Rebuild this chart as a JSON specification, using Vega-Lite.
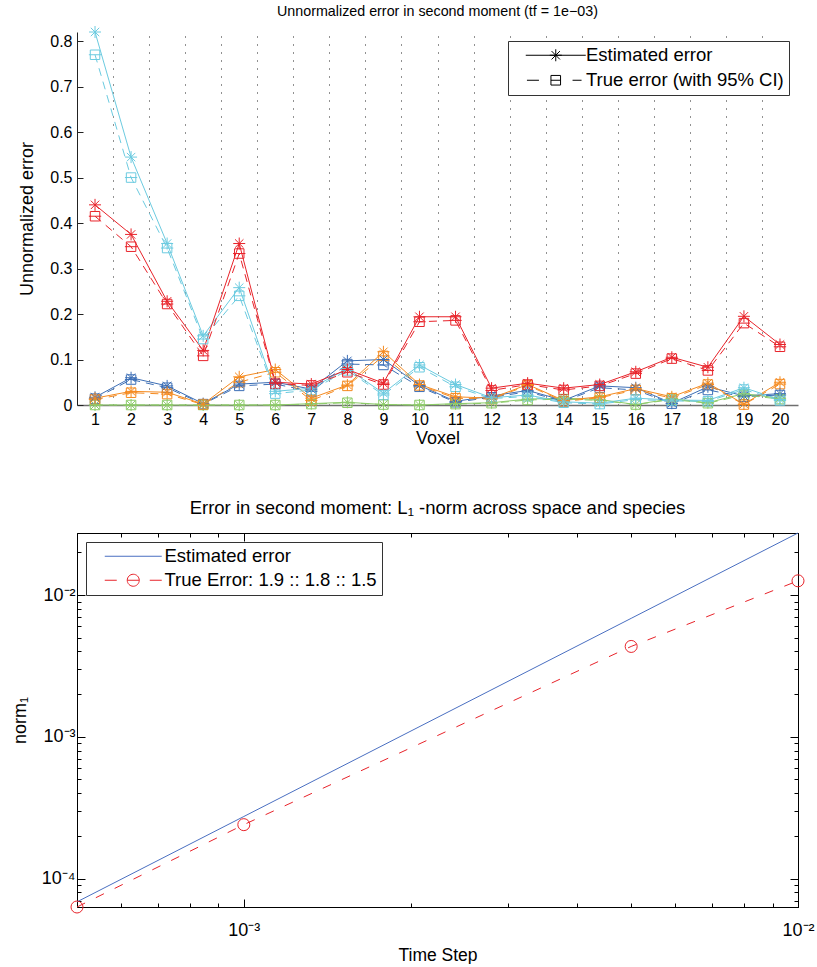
{
  "$schema": "https://vega.github.io/schema/vega-lite/v6.json",
  "background": "white",
  "padding": {"left": 11, "top": 4, "right": 0, "bottom": 0},
  "spacing": 51,
  "config": {
    "font": "Liberation Sans",
    "view": {"stroke": null},
    "axis": {"labelFontSize": 16, "titleFontSize": 18, "titleFontWeight": "normal", "labelColor": "black", "titleColor": "black", "grid": false, "labelFlush": false, "domainColor": "black", "tickColor": "black"},
    "title": {"fontSize": 17, "fontWeight": "normal", "color": "black"},
    "legend": {"labelFontSize": 18.5, "labelColor": "black", "labelLimit": 500, "strokeColor": "#333", "fillColor": "white", "symbolOpacity": 1, "symbolStrokeWidth": 1, "symbolSize": 144}
  },
  "resolve": {
    "scale": {"color": "independent", "shape": "independent", "strokeDash": "independent"},
    "legend": {"color": "independent", "shape": "independent"}
  },
  "datasets": {
    "voxels": [
      {"voxel":1,"species":"s1","est":0.017,"tru":0.014},{"voxel":2,"species":"s1","est":0.06,"tru":0.056},{"voxel":3,"species":"s1","est":0.042,"tru":0.038},{"voxel":4,"species":"s1","est":0.003,"tru":0.002},{"voxel":5,"species":"s1","est":0.046,"tru":0.042},{"voxel":6,"species":"s1","est":0.05,"tru":0.046},{"voxel":7,"species":"s1","est":0.035,"tru":0.03},{"voxel":8,"species":"s1","est":0.097,"tru":0.09},{"voxel":9,"species":"s1","est":0.1,"tru":0.088},{"voxel":10,"species":"s1","est":0.043,"tru":0.04},
      {"voxel":11,"species":"s1","est":0.008,"tru":0.006},{"voxel":12,"species":"s1","est":0.02,"tru":0.017},{"voxel":13,"species":"s1","est":0.032,"tru":0.029},{"voxel":14,"species":"s1","est":0.01,"tru":0.008},{"voxel":15,"species":"s1","est":0.042,"tru":0.038},{"voxel":16,"species":"s1","est":0.038,"tru":0.033},{"voxel":17,"species":"s1","est":0.004,"tru":0.003},{"voxel":18,"species":"s1","est":0.04,"tru":0.033},{"voxel":19,"species":"s1","est":0.02,"tru":0.018},{"voxel":20,"species":"s1","est":0.025,"tru":0.022},
      {"voxel":1,"species":"s2","est":0,"tru":0},{"voxel":2,"species":"s2","est":0,"tru":0},{"voxel":3,"species":"s2","est":0,"tru":0},{"voxel":4,"species":"s2","est":0,"tru":0},{"voxel":5,"species":"s2","est":0,"tru":0},{"voxel":6,"species":"s2","est":0,"tru":0},{"voxel":7,"species":"s2","est":0.003,"tru":0.002},{"voxel":8,"species":"s2","est":0.006,"tru":0.005},{"voxel":9,"species":"s2","est":0.001,"tru":0.001},{"voxel":10,"species":"s2","est":0,"tru":0},
      {"voxel":11,"species":"s2","est":0.003,"tru":0.002},{"voxel":12,"species":"s2","est":0.005,"tru":0.004},{"voxel":13,"species":"s2","est":0.013,"tru":0.011},{"voxel":14,"species":"s2","est":0.015,"tru":0.013},{"voxel":15,"species":"s2","est":0.012,"tru":0.01},{"voxel":16,"species":"s2","est":0.001,"tru":0.001},{"voxel":17,"species":"s2","est":0.014,"tru":0.012},{"voxel":18,"species":"s2","est":0.005,"tru":0.004},{"voxel":19,"species":"s2","est":0.025,"tru":0.022},{"voxel":20,"species":"s2","est":0.015,"tru":0.013},
      {"voxel":1,"species":"s3","est":0.015,"tru":0.012},{"voxel":2,"species":"s3","est":0.03,"tru":0.027},{"voxel":3,"species":"s3","est":0.028,"tru":0.024},{"voxel":4,"species":"s3","est":0.002,"tru":0.001},{"voxel":5,"species":"s3","est":0.062,"tru":0.05},{"voxel":6,"species":"s3","est":0.078,"tru":0.072},{"voxel":7,"species":"s3","est":0.015,"tru":0.01},{"voxel":8,"species":"s3","est":0.044,"tru":0.042},{"voxel":9,"species":"s3","est":0.117,"tru":0.108},{"voxel":10,"species":"s3","est":0.045,"tru":0.043},
      {"voxel":11,"species":"s3","est":0.018,"tru":0.015},{"voxel":12,"species":"s3","est":0.015,"tru":0.013},{"voxel":13,"species":"s3","est":0.045,"tru":0.043},{"voxel":14,"species":"s3","est":0.01,"tru":0.008},{"voxel":15,"species":"s3","est":0.018,"tru":0.016},{"voxel":16,"species":"s3","est":0.036,"tru":0.033},{"voxel":17,"species":"s3","est":0.018,"tru":0.015},{"voxel":18,"species":"s3","est":0.048,"tru":0.045},{"voxel":19,"species":"s3","est":0.002,"tru":0.001},{"voxel":20,"species":"s3","est":0.05,"tru":0.046},
      {"voxel":1,"species":"s4","est":0.82,"tru":0.77},{"voxel":2,"species":"s4","est":0.545,"tru":0.5},{"voxel":3,"species":"s4","est":0.355,"tru":0.345},{"voxel":4,"species":"s4","est":0.152,"tru":0.145},{"voxel":5,"species":"s4","est":0.258,"tru":0.24},{"voxel":6,"species":"s4","est":0.03,"tru":0.025},{"voxel":7,"species":"s4","est":0.037,"tru":0.033},{"voxel":8,"species":"s4","est":0.08,"tru":0.076},{"voxel":9,"species":"s4","est":0.026,"tru":0.022},{"voxel":10,"species":"s4","est":0.088,"tru":0.083},
      {"voxel":11,"species":"s4","est":0.045,"tru":0.04},{"voxel":12,"species":"s4","est":0.016,"tru":0.014},{"voxel":13,"species":"s4","est":0.022,"tru":0.019},{"voxel":14,"species":"s4","est":0.007,"tru":0.005},{"voxel":15,"species":"s4","est":0.004,"tru":0.002},{"voxel":16,"species":"s4","est":0.015,"tru":0.012},{"voxel":17,"species":"s4","est":0.011,"tru":0.009},{"voxel":18,"species":"s4","est":0.01,"tru":0.008},{"voxel":19,"species":"s4","est":0.038,"tru":0.034},{"voxel":20,"species":"s4","est":0.012,"tru":0.01},
      {"voxel":1,"species":"s5","est":0.44,"tru":0.415},{"voxel":2,"species":"s5","est":0.375,"tru":0.348},{"voxel":3,"species":"s5","est":0.228,"tru":0.222},{"voxel":4,"species":"s5","est":0.12,"tru":0.108},{"voxel":5,"species":"s5","est":0.355,"tru":0.333},{"voxel":6,"species":"s5","est":0.05,"tru":0.047},{"voxel":7,"species":"s5","est":0.046,"tru":0.043},{"voxel":8,"species":"s5","est":0.078,"tru":0.072},{"voxel":9,"species":"s5","est":0.048,"tru":0.045},{"voxel":10,"species":"s5","est":0.194,"tru":0.183},
      {"voxel":11,"species":"s5","est":0.194,"tru":0.186},{"voxel":12,"species":"s5","est":0.037,"tru":0.032},{"voxel":13,"species":"s5","est":0.048,"tru":0.045},{"voxel":14,"species":"s5","est":0.037,"tru":0.033},{"voxel":15,"species":"s5","est":0.045,"tru":0.042},{"voxel":16,"species":"s5","est":0.073,"tru":0.069},{"voxel":17,"species":"s5","est":0.105,"tru":0.102},{"voxel":18,"species":"s5","est":0.083,"tru":0.076},{"voxel":19,"species":"s5","est":0.195,"tru":0.18},{"voxel":20,"species":"s5","est":0.133,"tru":0.128}
    ],
    "conv": [
      {"dt":0.0005,"series":"est","norm":0.0000685},
      {"dt":0.001,"series":"est","norm":0.000274},
      {"dt":0.005,"series":"est","norm":0.00685},
      {"dt":0.01,"series":"est","norm":0.0274},
      {"dt":0.0005,"series":"tru","norm":0.000063},
      {"dt":0.001,"series":"tru","norm":0.00024},
      {"dt":0.005,"series":"tru","norm":0.00434},
      {"dt":0.01,"series":"tru","norm":0.0126}
    ]
  },
  "vconcat": [
    {
      "width": 721,
      "height": 373,
      "title": {"text": "Unnormalized error in second moment (tf = 1e−03)", "offset": 5, "fontSize": 14.3},
      "data": {"name": "voxels"},
      "transform": [{"fold": ["est", "tru"], "as": ["kind", "err"]}],
      "resolve": {"axis": {"x": "independent", "y": "independent"}},
      "layer": [
        {
          "transform": [{"filter": "datum.kind == 'est'"}],
          "mark": {"type": "line", "strokeWidth": 1},
          "encoding": {
            "x": {"field": "voxel", "type": "quantitative", "scale": {"domain": [0.5, 20.5], "nice": false, "zero": false},
                  "axis": {"orient": "bottom", "values": [1,2,3,4,5,6,7,8,9,10,11,12,13,14,15,16,17,18,19,20], "format": "d", "ticks": false, "domainColor": "#6f6f6f", "domainWidth": 1.5, "labelPadding": 6, "title": "Voxel", "titlePadding": 2}},
            "y": {"field": "err", "type": "quantitative", "scale": {"domain": [0, 0.82], "nice": false},
                  "axis": {"orient": "left", "values": [0,0.1,0.2,0.3,0.4,0.5,0.6,0.7,0.8], "format": ".1~f", "tickSize": -6, "labelPadding": 11, "domainColor": "#222", "tickColor": "#222", "title": "Unnormalized error", "titlePadding": 13}},
            "color": {"field": "species", "type": "nominal", "scale": {"domain": ["s1","s2","s3","s4","s5"], "range": ["#3d6fb6","#8dcb69","#f58a1f","#6ccbe0","#e8232a"]}, "legend": null}
          }
        },
        {
          "transform": [{"filter": "datum.kind == 'tru'"}],
          "mark": {"type": "line", "strokeWidth": 1, "strokeDash": [8, 6]},
          "encoding": {
            "x": {"field": "voxel", "type": "quantitative", "axis": null},
            "y": {"field": "err", "type": "quantitative", "axis": null},
            "color": {"field": "species", "type": "nominal", "legend": null}
          }
        },
        {
          "transform": [{"filter": "datum.kind == 'tru'"}],
          "mark": {"type": "point", "shape": "square", "filled": false, "size": 90, "strokeWidth": 1, "opacity": 1},
          "encoding": {
            "x": {"field": "voxel", "type": "quantitative", "axis": null},
            "y": {"field": "err", "type": "quantitative", "axis": null},
            "color": {"field": "species", "type": "nominal", "legend": null}
          }
        },
        {
          "transform": [{"filter": "datum.kind == 'tru'"}],
          "mark": {"type": "point", "shape": "M-1.3,0L1.3,0", "filled": false, "size": 90, "strokeWidth": 1, "opacity": 1},
          "encoding": {
            "x": {"field": "voxel", "type": "quantitative", "axis": null},
            "y": {"field": "err", "type": "quantitative", "axis": null},
            "color": {"field": "species", "type": "nominal", "legend": null}
          }
        },
        {
          "transform": [{"filter": "datum.kind == 'est'"}],
          "mark": {"type": "point", "shape": "M-1,0L1,0M0,-1L0,1M-0.7,-0.7L0.7,0.7M-0.7,0.7L0.7,-0.7", "filled": false, "size": 144, "strokeWidth": 1, "opacity": 1},
          "encoding": {
            "x": {"field": "voxel", "type": "quantitative", "axis": null},
            "y": {"field": "err", "type": "quantitative", "axis": null},
            "color": {"field": "species", "type": "nominal", "legend": null}
          }
        },
        {
          "mark": {"type": "point", "filled": false, "opacity": 0, "color": "black"},
          "encoding": {
            "x": {"field": "voxel", "type": "quantitative",
                  "axis": {"orient": "top", "values": [1.5,2.5,3.5,4.5,5.5,6.5,7.5,8.5,9.5,10.5,11.5,12.5,13.5,14.5,15.5,16.5,17.5,18.5,19.5], "labels": false, "ticks": false, "domain": false, "title": null, "grid": true, "gridDash": [1,7], "gridColor": "#222", "gridWidth": 1}},
            "y": {"field": "err", "type": "quantitative", "axis": null},
            "shape": {"field": "kind", "type": "nominal",
                      "scale": {"domain": ["est","tru"], "range": ["M-5,0L5,0M-1,0L1,0M0,-1L0,1M-0.7,-0.7L0.7,0.7M-0.7,0.7L0.7,-0.7", "M-4.8,0L-2.8,0M2.8,0L4.3,0M-0.8,-0.8L0.8,-0.8L0.8,0.8L-0.8,0.8ZM-0.8,0L0.8,0"]},
                      "legend": {"title": null, "orient": "top-right", "offset": 9, "labelExpr": "datum.label == 'est' ? 'Estimated error' : 'True error (with 95% CI)'", "symbolStrokeColor": "black", "symbolOffset": 33.5, "labelOffset": 21, "padding": 5, "rowPadding": 6}}
          }
        }
      ]
    },
    {
      "width": 721,
      "height": 374,
      "title": {"text": "Error in second moment:  L₁ -norm across space and species", "offset": 14, "fontSize": 18.5},
      "data": {"name": "conv"},
      "resolve": {"axis": {"x": "independent", "y": "independent"}},
      "layer": [
        {
          "transform": [{"filter": "datum.series == 'est'"}],
          "mark": {"type": "line", "color": "#4a6fc1", "strokeWidth": 1},
          "encoding": {
            "x": {"field": "dt", "type": "quantitative", "scale": {"type": "log", "domain": [0.0005, 0.01], "nice": false},
                  "axis": {"orient": "bottom", "values": [0.001, 0.01], "labelExpr": "datum.value < 0.005 ? '10⁻³' : '10⁻²'", "labelFontSize": 18, "tickSize": -8, "labelPadding": 22, "title": "Time Step", "titlePadding": 7, "titleFontSize": 17.5}},
            "y": {"field": "norm", "type": "quantitative", "scale": {"type": "log", "domain": [0.000063, 0.0274], "nice": false},
                  "axis": {"orient": "left", "values": [0.0001, 0.001, 0.01], "labelExpr": "datum.value < 0.0005 ? '10⁻⁴' : datum.value < 0.005 ? '10⁻³' : '10⁻²'", "labelFontSize": 18, "tickSize": -8, "labelPadding": 10, "title": "norm₁", "titlePadding": 12}}
          }
        },
        {
          "transform": [{"filter": "datum.series == 'tru'"}],
          "mark": {"type": "line", "color": "#e8232a", "strokeDash": [9, 12], "strokeWidth": 1},
          "encoding": {
            "x": {"field": "dt", "type": "quantitative",
                  "axis": {"orient": "top", "values": [0.001, 0.01], "labels": false, "tickSize": -8, "title": null}},
            "y": {"field": "norm", "type": "quantitative",
                  "axis": {"orient": "right", "values": [0.0001, 0.001, 0.01], "labels": false, "tickSize": -8, "title": null}}
          }
        },
        {
          "transform": [{"filter": "datum.series == 'tru'"}],
          "mark": {"type": "point", "shape": "circle", "filled": false, "size": 144, "color": "#e8232a", "strokeWidth": 1, "opacity": 1},
          "encoding": {
            "x": {"field": "dt", "type": "quantitative",
                  "axis": {"orient": "bottom", "values": [0.0006,0.0007,0.0008,0.0009,0.002,0.003,0.004,0.005,0.006,0.007,0.008,0.009], "labels": false, "tickSize": -4, "title": null}},
            "y": {"field": "norm", "type": "quantitative",
                  "axis": {"orient": "left", "values": [0.00007,0.00008,0.00009,0.0002,0.0003,0.0004,0.0005,0.0006,0.0007,0.0008,0.0009,0.002,0.003,0.004,0.005,0.006,0.007,0.008,0.009,0.02], "labels": false, "tickSize": -4, "title": null}}
          }
        },
        {
          "mark": {"type": "point", "filled": false, "opacity": 0},
          "encoding": {
            "x": {"field": "dt", "type": "quantitative",
                  "axis": {"orient": "top", "values": [0.0006,0.0007,0.0008,0.0009,0.002,0.003,0.004,0.005,0.006,0.007,0.008,0.009], "labels": false, "tickSize": -4, "title": null}},
            "y": {"field": "norm", "type": "quantitative",
                  "axis": {"orient": "right", "values": [0.00007,0.00008,0.00009,0.0002,0.0003,0.0004,0.0005,0.0006,0.0007,0.0008,0.0009,0.002,0.003,0.004,0.005,0.006,0.007,0.008,0.009,0.02], "labels": false, "tickSize": -4, "title": null}},
            "color": {"field": "series", "type": "nominal", "scale": {"domain": ["est","tru"], "range": ["#4a6fc1","#e8232a"]},
                      "legend": {"title": null, "orient": "top-left", "offset": 9, "labelExpr": "datum.label == 'est' ? 'Estimated error' : 'True Error: 1.9 :: 1.8 :: 1.5'", "symbolOffset": 33, "labelOffset": 22, "padding": 5, "rowPadding": 5}},
            "shape": {"field": "series", "type": "nominal",
                      "scale": {"domain": ["est","tru"], "range": ["M-4.75,0L4.75,0", "M-4.75,0L-2.75,0M2.75,0L4.75,0M1,0A1,1,0,1,1,-1,0A1,1,0,1,1,1,0M-1,0L1,0"]},
                      "legend": {"title": null, "orient": "top-left", "offset": 9, "labelExpr": "datum.label == 'est' ? 'Estimated error' : 'True Error: 1.9 :: 1.8 :: 1.5'", "symbolOffset": 33, "labelOffset": 22, "padding": 5, "rowPadding": 5}}
          }
        }
      ]
    }
  ]
}
